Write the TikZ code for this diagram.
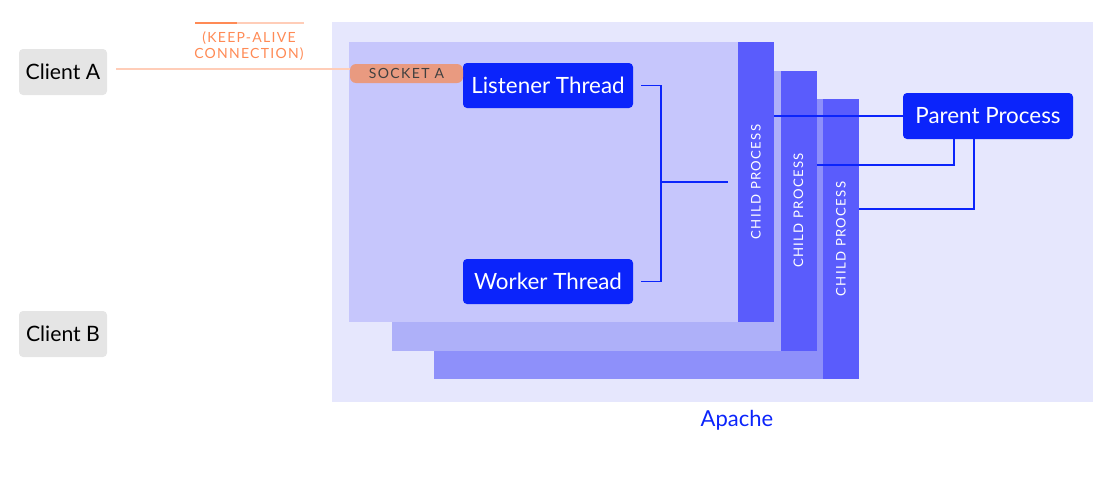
\documentclass[tikz,border=0pt]{standalone}
\usepackage{fontspec}
\setmainfont{Lato}
\usepackage{tikz}

% colori
\definecolor{sfondo}{HTML}{E6E7FD}
\definecolor{pan1}{HTML}{C6C6FC}
\definecolor{pan2}{HTML}{AEB0F9}
\definecolor{pan3}{HTML}{8E90FA}
\definecolor{barcol}{HTML}{5A5CFC}
\definecolor{blu}{HTML}{0B24FB}
\definecolor{grigio}{HTML}{E5E5E5}
\definecolor{salmone}{HTML}{E99A80}
\definecolor{arancio}{HTML}{FF8A55}
\definecolor{arancioch}{HTML}{FFCDB8}

\begin{document}
\begin{tikzpicture}[x=0.5pt,y=-0.5pt]
\tikzstyle{cliente} = [fill=grigio, rounded corners=2pt, minimum width=44pt, minimum height=23pt, inner sep=0, font=\fontsize{10.6}{12}\selectfont]
\tikzstyle{thread} = [fill=blu, text=white, rounded corners=2pt, minimum width=85pt, minimum height=22.5pt, inner sep=0, font=\fontsize{11.2}{13}\selectfont]
\tikzstyle{pannello} = [minimum width=194.5pt, minimum height=140pt, inner sep=0]
\tikzstyle{barra} = [fill=barcol, text=white, rotate=90, minimum width=140pt, minimum height=18pt, inner sep=0, font=\fontsize{6.6}{7}\selectfont\addfontfeatures{LetterSpace=10}]
\tikzstyle{linea} = [draw=blu, line width=0.7pt]

\useasboundingbox (0,0) rectangle (1100,477);

% Apache
\node[fill=sfondo, minimum width=380.5pt, minimum height=190pt, inner sep=0] (apache) at (712.5,212) {};
\node[text=blu, font=\fontsize{11}{13}\selectfont] (apachelbl) at (737,420) {Apache};

% Processi figli (dal fondo)
\foreach \i/\col in {2/pan3,1/pan2,0/pan1} {
  \pgfmathsetmacro{\px}{349+42.5*\i+194.5}
  \pgfmathsetmacro{\bx}{738+42.5*\i+18}
  \pgfmathsetmacro{\yy}{42+28.5*\i+140}
  \node[pannello, fill=\col] (pan-\i) at (\px,\yy) {};
  \node[barra] (child-\i) at (\bx,\yy) {CHILD PROCESS};
}

% Thread
\node[thread] (lis) at (548,85.5) {Listener Thread};
\node[thread] (wrk) at (548,281.5) {Worker Thread};
\node[fill=salmone, rounded corners=3pt, minimum width=56.5pt, minimum height=9.5pt, inner sep=0,
      text=black!75, font=\fontsize{7}{8}\selectfont\addfontfeatures{LetterSpace=10}] (sock) at (406.5,73.5) {SOCKET A};
\node[thread, minimum width=85pt, minimum height=23pt] (par) at (988,116) {Parent Process};

% Client
\node[cliente] (cliA) at (63,72) {Client A};
\node[cliente] (cliB) at (63,334) {Client B};

% Keep-alive
\node[text=arancio, align=center, font=\fontsize{7}{8}\selectfont\addfontfeatures{LetterSpace=9}] (keep) at (249,46) {(KEEP-ALIVE\\ CONNECTION)};
\draw[arancio, line width=1pt] (195,23) -- (237,23);
\draw[arancioch, line width=1pt] (237,23) -- (304,23);

\coordinate (ca) at ([xshift=4.5pt,yshift=1.5pt]cliA.east);
\draw[arancioch, line width=0.8pt] (ca) -- (ca -| sock.west);

% Connessioni thread
\coordinate (giunto) at (661,182);
\draw[linea] ([xshift=4pt]lis.east) -| (giunto) |- ([xshift=4pt]wrk.east);
\draw[linea] (giunto) -- ([xshift=-5pt]child-0.north |- giunto);

% Connessioni al padre
\draw[linea] (child-0.south |- par.west) -- (par.west);
\draw[linea] (child-1.south |- 0,165) -| ([xshift=-17pt]par.south);
\draw[linea] (child-2.south |- 0,209) -| ([xshift=-7pt]par.south);

\end{tikzpicture}
\end{document}
